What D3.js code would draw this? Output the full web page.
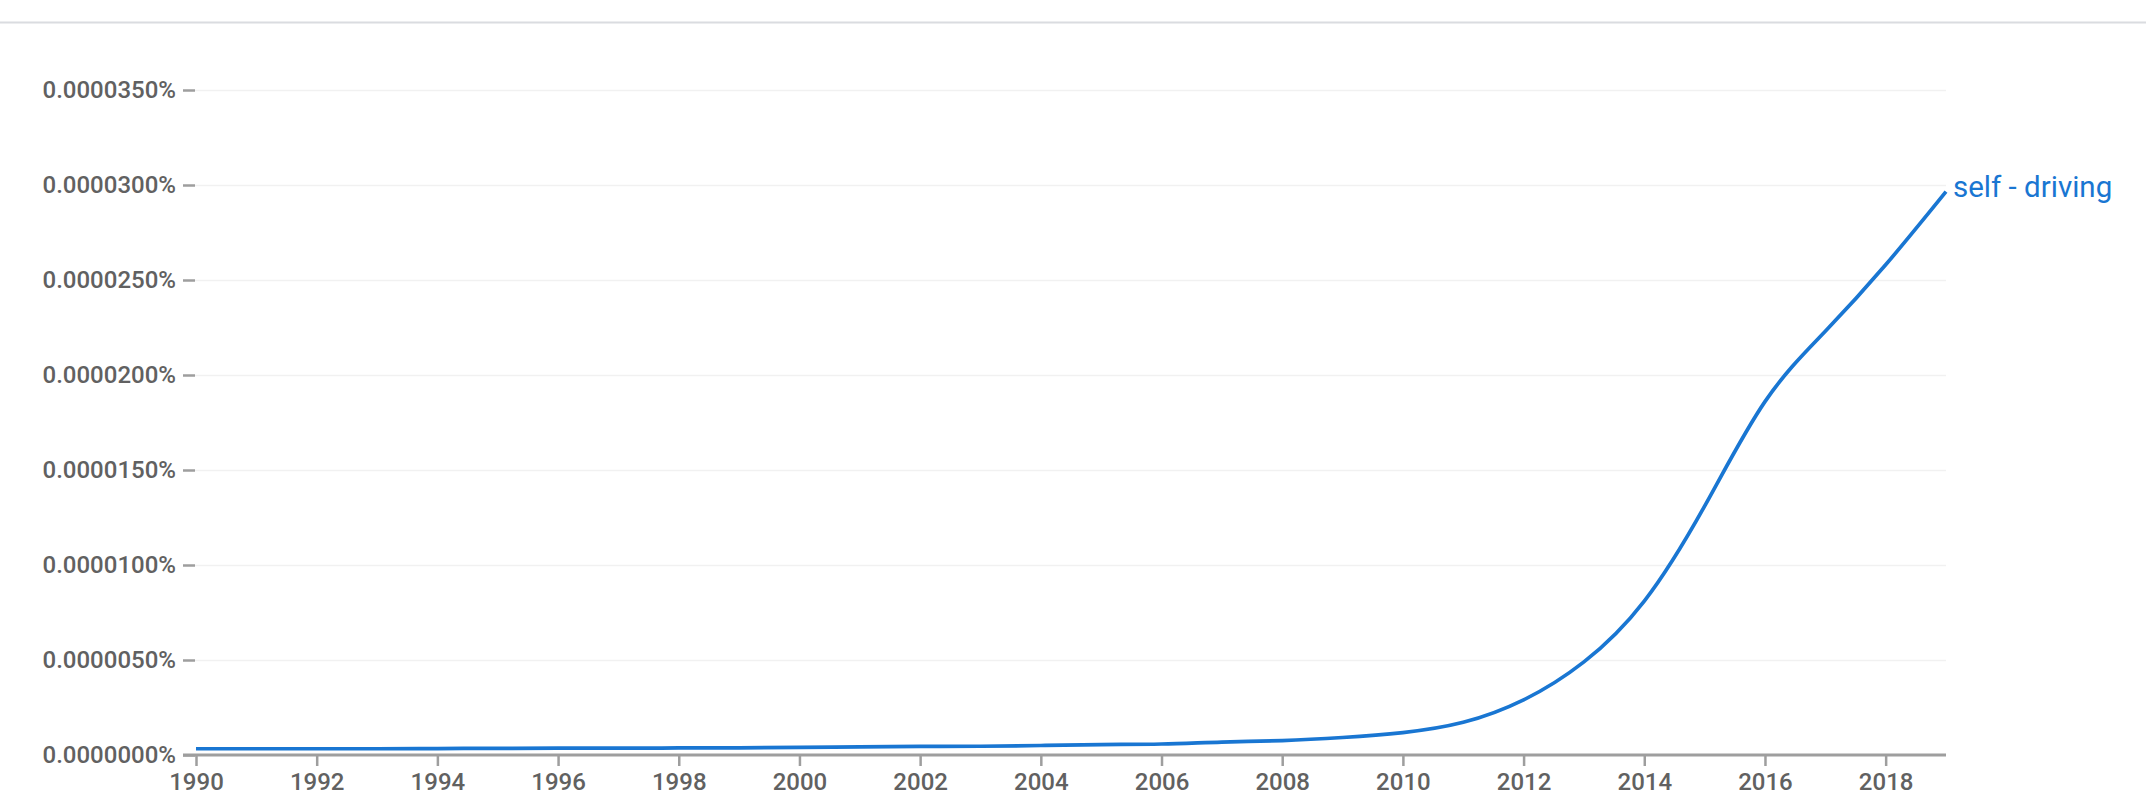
<!DOCTYPE html>
<html>
<head>
<meta charset="utf-8">
<script src="https://cdn.jsdelivr.net/npm/d3@7"></script>
<style>
  html, body { margin: 0; padding: 0; background: #fff; }
  svg { display: block; font-family: Roboto, "Noto Sans", sans-serif; }
</style>
</head>
<body>
<svg id="chart" width="2146" height="810"></svg>
<script>
// ---- data ----
const years = [1990,1991,1992,1993,1994,1995,1996,1997,1998,1999,
               2000,2001,2002,2003,2004,2005,2006,2007,2008,2009,
               2010,2011,2012,2013,2014,2015,2016,2017,2018,2019];
// frequency in percent
const selfDriving = [0.00000033,0.00000033,0.00000033,0.00000033,0.00000034,0.00000035,0.00000036,0.00000036,0.00000037,0.00000038,
                     0.00000040,0.00000043,0.00000045,0.00000046,0.00000050,0.00000055,0.00000058,0.00000068,0.00000076,0.00000092,
                     0.00000118,0.00000172,0.00000290,0.00000490,0.00000810,0.00001310,0.00001860,0.00002230,0.00002580,0.00002965];
const seriesName = "self - driving";
const yTicks = [0, 0.000005, 0.00001, 0.000015, 0.00002, 0.000025, 0.00003, 0.000035];
const xTicks = [1990,1992,1994,1996,1998,2000,2002,2004,2006,2008,2010,2012,2014,2016,2018];

(function () {
// ---- layout ----
const svg = d3.select("#chart");
const mLeft = 196, mRight = 1946, mTop = 90, mBottom = 755;
const x = d3.scaleLinear().domain([1990, 2019]).range([mLeft, mRight]);
const y = d3.scaleLinear().domain([0, 0.000035]).range([mBottom, mTop]);

const textColor = "#616161";
const axisColor = "#9e9e9e";
const lineColor = "#1976d2";

// top border
svg.append("line").attr("x1", 0).attr("x2", 2146).attr("y1", 22.5).attr("y2", 22.5)
  .attr("stroke", "#dadce0").attr("stroke-width", 2);

// gridlines
const grid = svg.append("g").attr("transform", `translate(${mLeft - 1},0)`)
  .call(d3.axisLeft(y).tickValues(yTicks.slice(1)).tickSize(-(mRight - mLeft + 1)).tickFormat(""));
grid.select(".domain").remove();
grid.selectAll("line").attr("stroke", "#f1f1f1").attr("stroke-width", 1.5);

// y axis (ticks + labels)
const yAxis = svg.append("g").attr("transform", `translate(${mLeft - 1},0)`)
  .call(d3.axisLeft(y).tickValues(yTicks).tickSize(12).tickPadding(7)
        .tickFormat(d => d3.format(".7f")(d) + "%"));
yAxis.select(".domain").remove();
yAxis.selectAll("line").attr("stroke", axisColor).attr("stroke-width", 2.5);
yAxis.selectAll("text").attr("fill", textColor).attr("font-size", 24).attr("font-weight", 500)
  .attr("font-family", "Roboto");

// x axis
const xAxis = svg.append("g").attr("transform", `translate(0,${mBottom})`)
  .call(d3.axisBottom(x).tickValues(xTicks).tickSize(11).tickPadding(7).tickFormat(d => String(d)));
xAxis.select(".domain").attr("d", `M${mLeft - 13},0H${mRight}`).attr("stroke", axisColor).attr("stroke-width", 3);
xAxis.selectAll(".tick line").attr("stroke", axisColor).attr("stroke-width", 2.5);
xAxis.selectAll("text").attr("fill", textColor).attr("font-size", 24).attr("font-weight", 500)
  .attr("font-family", "Roboto");

// line
const data = years.map((yr, i) => ({ year: yr, value: selfDriving[i] }));
const line = d3.line().x(d => x(d.year)).y(d => y(d.value)).curve(d3.curveNatural);
svg.append("path").datum(data).attr("d", line)
  .attr("fill", "none").attr("stroke", lineColor).attr("stroke-width", 3.7)
  .attr("stroke-linejoin", "round");

// series label
const last = data[data.length - 1];
svg.append("text").attr("x", x(last.year) + 7).attr("y", y(last.value) + 5)
  .attr("fill", lineColor).attr("font-size", 29.5).attr("font-family", "Roboto")
  .text(seriesName);
})();
</script>
</body>
</html>
